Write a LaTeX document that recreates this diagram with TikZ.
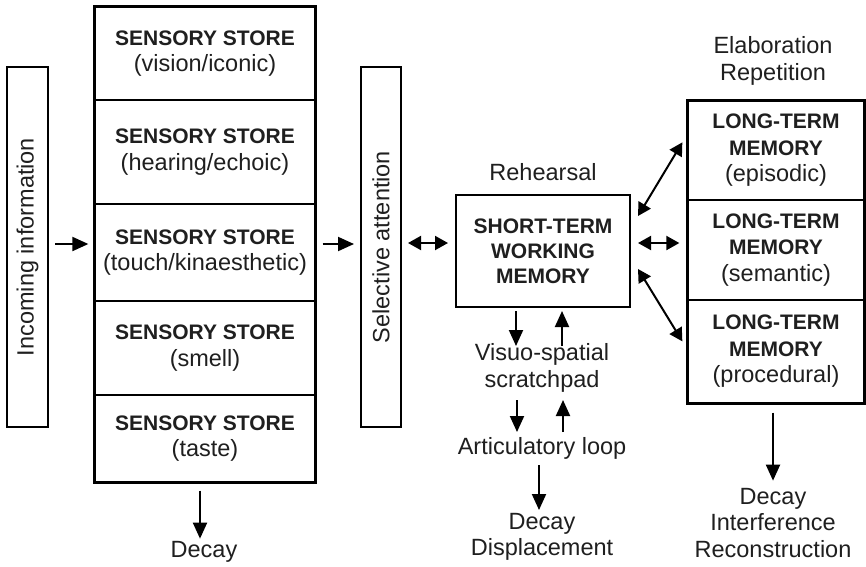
\documentclass[tikz,border=0pt]{standalone}
\usepackage{fontspec}
\setmainfont{Liberation Sans}
\usepackage{graphicx}
\usetikzlibrary{arrows.meta}
\newcommand\hd[1]{{\fontsize{21}{26.5}\selectfont\bfseries #1}}
\begin{document}
\begin{tikzpicture}[x=1pt,y=-1pt,
  base/.style={font=\fontsize{23.5}{26.5}\selectfont, align=center, inner sep=0pt, text=black!88},
  cell/.style={base, draw, line width=1.3pt, minimum width=#1},
  frame/.style={line width=2pt},
  arr/.style={line width=2pt, -{Triangle[length=16pt,width=14pt]}},
  dbl/.style={line width=2pt, {Triangle[length=13pt,width=14pt]}-{Triangle[length=13pt,width=14pt]}}]

\useasboundingbox (0,0) rectangle (866,566);
\fill[white] (0,0) rectangle (866,566);

% incoming information and selective attention
\node[base, draw, frame, minimum width=41pt, minimum height=360pt] (inc) at (27.5,247) {\rotatebox{90}{Incoming information}};
\node[base, draw, frame, minimum width=40pt, minimum height=360pt] (sel) at (381,247) {\rotatebox{90}{Selective attention}};

% sensory stores
\node[cell=220pt, minimum height=93pt]  (s1) at (205,53.5)  {\hd{SENSORY STORE}\\(vision/iconic)};
\node[cell=220pt, minimum height=104pt] (s2) at (205,152)   {\hd{SENSORY STORE}\\(hearing/echoic)};
\node[cell=220pt, minimum height=97pt]  (s3) at (205,252.5) {\hd{SENSORY STORE}\\(touch/kinaesthetic)};
\node[cell=220pt, minimum height=94pt]  (s4) at (205,348)   {\hd{SENSORY STORE}\\(smell)};
\node[cell=220pt, minimum height=87pt]  (s5) at (205,438.5) {\hd{SENSORY STORE}\\(taste)};
\draw[frame] (s1.north west) rectangle (s5.south east);

% short-term working memory
\node[base, draw, frame, minimum width=174pt, minimum height=112pt] (stm) at (543,251)
  {\hd{SHORT-TERM}\\[-1.5pt]\hd{WORKING}\\[-1.5pt]\hd{MEMORY}};

% long-term memory
\node[cell=176pt, minimum height=99pt]  (l1) at (776,150.5) {\hd{LONG-TERM}\\\hd{MEMORY}\\(episodic)};
\node[cell=176pt, minimum height=100pt] (l2) at (776,250)   {\hd{LONG-TERM}\\\hd{MEMORY}\\(semantic)};
\node[cell=176pt, minimum height=103pt] (l3) at (776,351.5) {\hd{LONG-TERM}\\\hd{MEMORY}\\(procedural)};
\draw[frame] (l1.north west) rectangle (l3.south east);

% labels
\node[base] (reh)  at (543,172) {Rehearsal};
\node[base] (elab) at (773,61)  {Elaboration\\Repetition};
\node[base] (vis)  at (542,368) {Visuo-spatial\\scratchpad};
\node[base] (art)  at (542,448) {Articulatory loop};
\node[base] (dec1) at (204,552) {Decay};
\node[base] (dec2) at (542,537) {Decay\\Displacement};
\node[base] (dec3) at (773,523) {Decay\\Interference\\Reconstruction};

% connectors
\draw[arr, shorten <=6pt, shorten >=6pt] ([yshift=3pt]inc.east) -- ([yshift=3pt]inc.east -| s3.west);
\draw[arr, shorten <=7pt, shorten >=6pt] ([yshift=3pt]sel.west -| s3.east) -- ([yshift=3pt]sel.west);
\draw[dbl, shorten <=6pt, shorten >=7pt] ([yshift=4pt]sel.east) -- ([yshift=4pt]sel.east -| stm.west);
\draw[dbl, shorten <=7pt, shorten >=8pt] ([yshift=4pt]sel.east -| stm.east) -- ([yshift=4pt]sel.east -| l2.west);
\draw[dbl] ([shift={(7,22)}]stm.north east) -- ([shift={(-5,42)}]l1.north west);
\draw[dbl] ([shift={(7,75)}]stm.north east) -- ([shift={(-5,42)}]l3.north west);

\draw[arr] ([shift={(-27,3)}]stm.south) -- ++(0,35);
\draw[arr] ([shift={(19,38)}]stm.south) -- ++(0,-35);
\draw[arr] ([shift={(-25,32)}]vis.center) -- ++(0,32);
\draw[arr] ([shift={(21,64)}]vis.center) -- ++(0,-32);
\draw[arr] ([shift={(-3,17)}]art.center) -- ++(0,45);
\draw[arr] ([shift={(-5,8)}]s5.south) -- ++(0,48);
\draw[arr] ([shift={(-3,9)}]l3.south) -- ++(0,68);
\end{tikzpicture}
\end{document}
